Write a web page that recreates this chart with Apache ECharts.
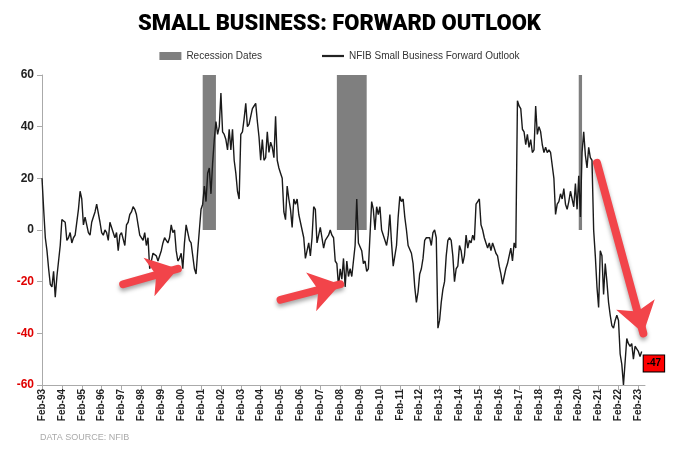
<!DOCTYPE html>
<html>
<head>
<meta charset="utf-8">
<script src="https://cdn.jsdelivr.net/npm/echarts@6/dist/echarts.min.js"></script>
<style>html,body{margin:0;padding:0;background:#fff}#chart{width:679px;height:452px}</style>
</head>
<body>
<div id="chart"></div>
<script>
// monthly values, each row Feb..Jan
const y1993 = [20, 8, -3, -8, -15, -21, -22, -16, -26, -18, -12, -6];
const y1994 = [4, 4, 3, -4, -3, -1, -5, -3, -2, -2, 8, 15];
const y1995 = [12, 2, 5, 2, -1, -2, 3, 5, 7, 10, 10, 3];
const y1996 = [-1, -2, 0, -1, -4, 3, 1, 1, -3, -1, -8, -2];
const y1997 = [-1, -1, -6, 2, 3, 6, 7, 9, 8, 6, 2, -2];
const y1998 = [-2, -4, -1, -6, -3, -15, -12, -9, -9, -10, -12, -12];
const y1999 = [-8, -5, -3, -4, -5, -3, 2, -1, 0, -8, -12, -11];
const y2000 = [-9, -15, -5, 2, -1, -4, -5, -5, -15, -17, -8, 0];
const y2001 = [8, 10, 17, 11, 22, 24, 14, 26, 35, 42, 37, 40];
const y2002 = [53, 38, 37, 35, 31, 39, 31, 39, 27, 22, 15, 12];
const y2003 = [37, 38, 43, 49, 40, 41, 41, 47, 48, 49, 42, 36];
const y2004 = [27, 35, 27, 28, 38, 30, 34, 32, 28, 44, 27, 24];
const y2005 = [22, 20, 7, 4, 17, 12, 8, 1, 12, 10, 12, 6];
const y2006 = [6, 0, -3, -11, -8, -5, -10, -3, 9, 8, -5, -2];
const y2007 = [1, -3, -7, -4, -4, -2, 0, -2, -3, -12, -13, -22];
const y2008 = [-15, -19, -11, -22, -12, -18, -15, -18, -12, -6, 12, -5];
const y2009 = [-5, -8, -13, -12, -16, -15, -2, 11, 8, 0, 9, 6];
const y2010 = [9, 0, 0, -4, -6, -2, 6, -5, -14, -10, -6, 5];
const y2011 = [13, 11, 12, 5, 0, -6, -6, -9, -13, -22, -28, -24];
const y2012 = [-17, -15, -11, -4, -3, -3, -3, -6, -1, 0, -3, -38];
const y2013 = [-35, -28, -23, -20, -10, -4, -3, -4, -10, -20, -15, -14];
const y2014 = [-6, -8, -13, -10, -2, -7, -4, -5, -2, -4, 10, 11];
const y2015 = [12, 2, 0, -3, -5, -7, -5, -8, -5, -7, -9, -10];
const y2016 = [-14, -17, -21, -18, -15, -13, -10, -7, -12, -5, -7, 50];
const y2017 = [48, 47, 39, 38, 33, 37, 32, 35, 30, 31, 48, 37];
const y2018 = [40, 38, 33, 30, 32, 30, 31, 30, 30, 20, 6, 10];
const y2019 = [11, 14, 12, 16, 10, 8, 11, 15, 12, 9, 18, 8];
const y2020 = [21, 5, 30, 38, 29, 24, 32, 28, 27, 0, -10, -22];
const y2021 = [-30, -8, -10, -25, -13, -20, -28, -33, -37, -38, -35, -33];
const y2022 = [-35, -48, -52, -60, -51, -42, -44, -45, -44, -50, -45, -46];
const y2023 = [-47, -49, -47];

const outlook = [].concat(y1993, y1994, y1995, y1996, y1997, y1998, y1999, y2000,
  y2001, y2002, y2003, y2004, y2005, y2006, y2007, y2008, y2009, y2010, y2011,
  y2012, y2013, y2014, y2015, y2016, y2017, y2018, y2019, y2020, y2021, y2022, y2023);

const monthNames = ['Jan', 'Feb', 'Mar', 'Apr', 'May', 'Jun', 'Jul', 'Aug', 'Sep', 'Oct', 'Nov', 'Dec'];
const months = [];
for (let i = 0; i < outlook.length + 2; i++) {
  const m = (1 + i) % 12;
  const yr = 93 + Math.floor((1 + i) / 12);
  months.push(monthNames[m] + '-' + String(yr % 100).padStart(2, '0'));
}

const recessions = [['Mar-01', 'Nov-01'], ['Dec-07', 'Jun-09'], ['Feb-20', 'Apr-20']];
const arrows = [
  [['Mar-97', -21], ['Dec-99', -15]],
  [['Feb-05', -27], ['Feb-08', -21]],
  [['Jan-21', 26], ['May-23', -40]]
];

const chart = echarts.init(document.getElementById('chart'));
const axisGrey = '#aaa';
chart.setOption({
  animation: false,
  title: {
    text: 'SMALL BUSINESS: FORWARD OUTLOOK', left: 'center', top: 8,
    textStyle: { fontFamily: 'Roboto', fontWeight: 900, fontSize: 22, color: '#000' }
  },
  legend: {
    top: 46, left: 'center', itemGap: 60,
    textStyle: { fontFamily: 'Liberation Sans', fontSize: 10, color: '#333' },
    data: [
      { name: 'Recession Dates', icon: 'rect', itemStyle: { color: '#7f7f7f' } },
      { name: 'NFIB Small Business Forward Outlook', icon: 'path://M0,0L20,0L20,2L0,2Z', itemStyle: { color: '#222' } }
    ],
    itemWidth: 22, itemHeight: 8
  },
  graphic: [{
    type: 'text', left: 40, top: 433,
    style: { text: 'DATA SOURCE: NFIB', fill: '#aaa', font: '9px Liberation Sans' }
  }],
  grid: { left: 42, right: 34, top: 75, bottom: 67, outerBoundsMode: 'none', containLabel: false },
  xAxis: [
    {
      type: 'category', data: months, boundaryGap: false, position: 'bottom',
      axisLine: { show: false }, axisTick: { show: false },
      axisLabel: {
        interval: 11, rotate: 90, fontFamily: 'Liberation Sans', fontWeight: 'bold', fontSize: 10, color: '#222', margin: 4
      },
      splitLine: { show: false }
    },
    {
      type: 'category', data: months, boundaryGap: false, position: 'bottom',
      axisLine: { onZero: true, lineStyle: { color: axisGrey } },
      axisTick: { interval: 11, lineStyle: { color: axisGrey } },
      axisLabel: { show: false }, splitLine: { show: false }
    }
  ],
  yAxis: {
    type: 'value', min: -60, max: 60, interval: 20,
    axisLine: { show: true, lineStyle: { color: axisGrey } },
    axisTick: { show: true, lineStyle: { color: axisGrey } },
    splitLine: { show: false },
    axisLabel: {
      fontFamily: 'Liberation Sans', fontWeight: 'bold', fontSize: 12,
      color: v => (v < 0 ? '#e00000' : '#222')
    }
  },
  series: [
    {
      name: 'Recession Dates', type: 'line', data: [], itemStyle: { color: '#7f7f7f' },
      markArea: {
        silent: true, itemStyle: { color: '#7f7f7f' },
        data: recessions.map(r => [{ xAxis: r[0], yAxis: 0 }, { xAxis: r[1], yAxis: 60 }])
      }
    },
    {
      name: 'NFIB Small Business Forward Outlook', type: 'line', showSymbol: false, symbol: 'none',
      data: outlook,
      lineStyle: { color: '#1a1a1a', width: 1.4 },
      endLabel: {
        show: true, offset: [-6, 12], formatter: p => String(p.value),
        backgroundColor: '#ff0000', borderColor: '#000', borderWidth: 1, padding: [3, 3],
        fontFamily: 'Liberation Sans', fontWeight: 'bold', fontSize: 10, color: '#000'
      },
      markLine: {
        silent: true, symbol: ['none', 'arrow'], symbolSize: [30, 30],
        lineStyle: { color: '#f2444a', width: 8, type: 'solid', cap: 'round', shadowColor: 'rgba(0,0,0,0.35)', shadowBlur: 4, shadowOffsetY: 3 },
        label: { show: false },
        data: arrows.map(a => [{ coord: a[0] }, { coord: a[1] }])
      }
    }
  ]
});
</script>
</body>
</html>
